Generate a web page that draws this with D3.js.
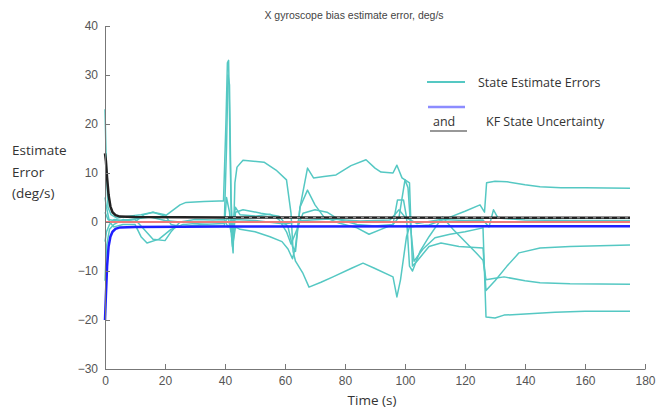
<!DOCTYPE html>
<html>
<head>
<meta charset="utf-8">
<script src="https://cdn.jsdelivr.net/npm/d3@7"></script>
<style>
  body { margin: 0; background: #fff; }
  svg { display: block; }
</style>
</head>
<body>
<script>
// state estimate error runs (time s, error deg/s)
var run1T = [0,0.5,1,2,4,8,12,16,20,25,27,33,38,39.5,40.3,40.8,41.2,41.7,42.2,42.7,43.3,44,46,53,57,60.5,62,62.7,63.5,66,68,72,76,82,86,90,96,97.3,98.5,100.5,101.5,104,108,115,120,125,126.5,127.2,130,134,140,145,152,160,175];
var run1V = [23,10,3,1.5,0.8,1.2,1.5,2,1.2,3.5,4,4.2,4.3,4.3,20,32.5,33,15,-3,-6.3,8,11.2,12.6,12.2,10.6,8.6,1.8,-6,-8,-10.5,-13.3,-12.3,-11.2,-9.5,-8.4,-9.5,-11.2,-15.3,-11.8,-3,-1,-0.8,-0.6,1,2.2,3.5,2,8,8.3,8.2,7.6,7.2,7,7,6.9];

var run2T = [0,0.5,1.5,3,6,10,13,16,20,22,25,30,36,39.8,40.5,41,41.5,42,42.7,43.5,46,52,58,61,62.5,63.5,65,67.5,69.5,73,77,82,87,90,92,96,97.3,99,101.5,102,102.5,104,108,112,118,126,127,130,134,138,145,155,175];
var run2V = [-4,-2,-0.5,0.5,0.3,0.5,-1.5,-3.5,-3.8,-2,0,0.5,0.4,0.5,15,30,28,5,-4,2,2.5,1.8,1.2,-1,-5,-6,3,11,9,9.3,9.6,11.5,12.7,11,10.2,10,11.6,9,8,-1,-9,-8,-5,-4.3,-5,-5.3,-14,-12,-9,-6.3,-5.3,-5,-4.7];

var run3T = [0,0.5,1.5,3,6,10,12,14,18,22,26,32,39.8,40.5,41.5,42.5,43.5,45,50,55,59,61,62.5,63.5,65,67.5,70,73,78,84,88,92,96,97.5,99.5,100.5,101.5,102.5,105,108,112.5,116,120,124,126,127,130,133,140,145,155,175];
var run3V = [5,3,0,-1,-0.5,-0.5,-3,-4.3,-3.5,-1.5,-0.5,-0.8,-0.8,5,2,-5,-1,-1.5,-2,-3,-4,-5.5,-7.5,-5,3,6.5,3.5,1,-0.2,-1.2,-2.5,-1.5,-0.5,4.5,4.5,1,-9,-10,-6,-3,1,-1.5,-4,-6.5,-7.8,-11.8,-11.5,-11.2,-12,-12.4,-12.6,-12.7];

var run4T = [0,0.5,1.5,3,6,10,13,16,20,22,26,32,39.8,41,42,43.5,45,50,55,58,60.5,62,64,66,70,74,78,84,90,96,98,100,101,102,103,106,110,115,120,126,127,130,133,140,150,160,175];
var run4V = [-12,-5,-1.5,-0.5,0.5,0,1.5,2,1.5,-0.5,-1,-0.5,-0.3,1,-2,3,1.5,1.2,1.6,0.5,-2,-4.5,-1.5,1.8,2.5,2,0.5,-0.5,-0.8,-0.5,1,8.6,7,-2,-8,-5.5,-3.2,-2.5,-2,-1.2,-19.4,-19.6,-19,-18.8,-18.4,-18.2,-18.2];

var run5T = [0,1,4,10,15,20,30,40,41,43,50,60,66,75,85,95,98,100,104,112,120,126,128,129.5,131,140,155,175];
var run5V = [2,0.5,0.2,0.6,1,0.3,-0.3,0.2,-1,0.5,0.3,-0.4,0.3,0.6,0.2,0.4,2.5,1,-0.3,0.5,0.3,0.4,-1,2.5,0.8,0.4,0.3,0.3];

// KF uncertainty bounds
var sigT  = [0,0.3,0.7,1.2,1.8,2.5,3.5,5,10,40,175];
var sigUp = [14,12.5,9,5.5,3.2,2,1.4,1.1,1.0,0.9,0.85];
var sigLo = [-20,-15,-9,-5,-3,-2,-1.4,-1.1,-1.0,-0.9,-0.85];

var xTicks = [0,20,40,60,80,100,120,140,160,180];
var yTicks = [-30,-20,-10,0,10,20,30,40];

var W = 659, H = 410;
var margin = {left:105, right:14, top:26, bottom:41};

var x = d3.scaleLinear().domain([0,180]).range([margin.left, W-margin.right]);
var y = d3.scaleLinear().domain([-30,40]).range([H-margin.bottom, margin.top]);

var svg = d3.select("body").append("svg").attr("width",W).attr("height",H);

var line = d3.line()
    .x(function(d){ return x(d[0]); })
    .y(function(d){ return y(d[1]); });

function pairs(t, v){ return t.map(function(d,i){ return [d, v[i]]; }); }

var runs = [[run1T,run1V],[run2T,run2V],[run3T,run3V],[run4T,run4V],[run5T,run5V]];
var teal = "#55c8c3";

svg.append("g").selectAll("path")
  .data(runs)
  .enter().append("path")
    .attr("d", function(r){ return line(pairs(r[0], r[1])); })
    .attr("fill","none")
    .attr("stroke", teal)
    .attr("stroke-width",1.5)
    .attr("stroke-linejoin","round");

// uncertainty and zero lines on top
svg.append("path")
  .attr("d", line(pairs(sigT, sigUp)))
  .attr("fill","none").attr("stroke","#222").attr("stroke-width",2.5);
svg.append("path")
  .attr("d", line(pairs([40,175],[0.9,0.85])))
  .attr("fill","none").attr("stroke","#aaa").attr("stroke-width",1)
  .attr("stroke-dasharray","3,5");
svg.append("path")
  .attr("d", line([[0,0],[175,0]]))
  .attr("fill","none").attr("stroke","#f07a7a").attr("stroke-width",1.8);
svg.append("path")
  .attr("d", line(pairs(sigT, sigLo)))
  .attr("fill","none").attr("stroke","#1f1fff").attr("stroke-width",2.5);

// axes, matlab style ticks pointing inwards
var xAxis = d3.axisBottom(x).tickValues(xTicks).tickSizeInner(-5).tickSizeOuter(0).tickPadding(7);
var yAxis = d3.axisLeft(y).tickValues(yTicks).tickSizeInner(-5).tickSizeOuter(0).tickPadding(7);

var gx = svg.append("g").attr("transform","translate(0,"+(H-margin.bottom)+")").call(xAxis);
var gy = svg.append("g").attr("transform","translate("+margin.left+",0)").call(yAxis);
[gx, gy].forEach(function(g){
  g.select(".domain").attr("stroke","#777");
  g.selectAll(".tick line").attr("stroke","#777");
  g.selectAll("text")
    .attr("font-family","'Liberation Sans Narrow','Liberation Sans',Arial,sans-serif")
    .attr("font-size",12).attr("fill","#555");
});

svg.append("text")
  .attr("x",354).attr("y",19)
  .attr("text-anchor","middle")
  .attr("font-family","'Liberation Sans',Arial,sans-serif")
  .attr("font-size",10.5).attr("fill","#444")
  .text("X gyroscope bias estimate error, deg/s");

svg.append("text")
  .attr("x",372).attr("y",405)
  .attr("text-anchor","middle")
  .attr("font-family","'Open Sans',sans-serif")
  .attr("font-size",13.5).attr("fill","#333")
  .text("Time (s)");

var ylab = ["Estimate","Error","(deg/s)"];
svg.append("g").selectAll("text")
  .data(ylab)
  .enter().append("text")
    .attr("x",12)
    .attr("y", function(d,i){ return 155 + i*21.5; })
    .attr("font-family","'Open Sans',sans-serif")
    .attr("font-size",13.5).attr("fill","#333")
    .text(function(d){ return d; });

// legend
var lg = svg.append("g").attr("font-family","'Open Sans',sans-serif").attr("font-size",12.5).attr("fill","#333");
lg.append("line").attr("x1",427).attr("x2",465).attr("y1",82).attr("y2",82).attr("stroke",teal).attr("stroke-width",2);
lg.append("text").attr("x",478).attr("y",87).text("State Estimate Errors");
lg.append("line").attr("x1",428).attr("x2",465).attr("y1",107).attr("y2",107).attr("stroke","#8c8cff").attr("stroke-width",2.5);
lg.append("text").attr("x",433).attr("y",126).text("and");
lg.append("line").attr("x1",430).attr("x2",467).attr("y1",131).attr("y2",131).attr("stroke","#333").attr("stroke-width",1.2);
lg.append("text").attr("x",486).attr("y",126).text("KF State Uncertainty");
</script>
</body>
</html>
